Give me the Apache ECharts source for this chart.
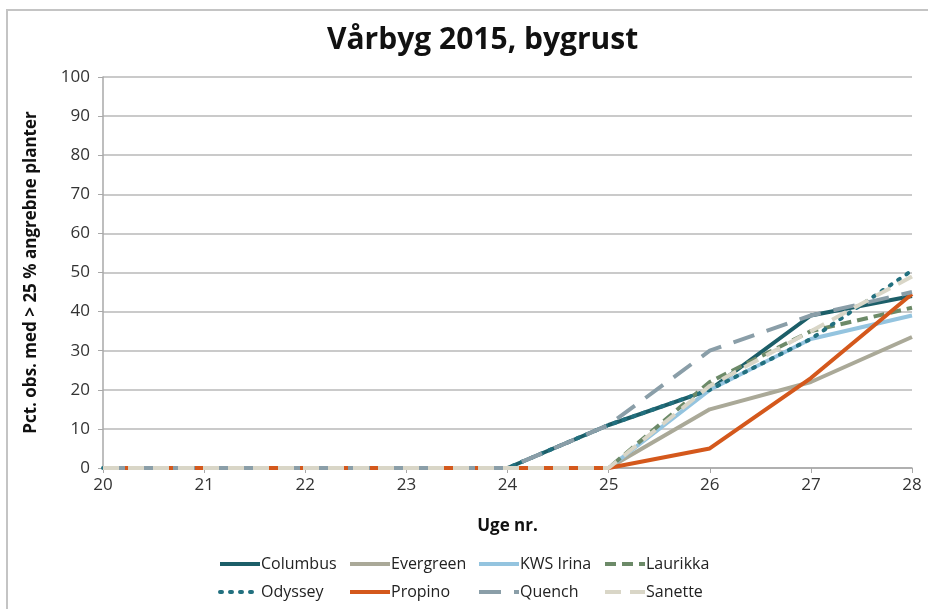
<!DOCTYPE html>
<html>
<head>
<meta charset="utf-8">
<script src="https://cdn.jsdelivr.net/npm/echarts@6/dist/echarts.min.js"></script>
<style>
  html, body { margin: 0; padding: 0; background: #fff; }
  #frame {
    position: absolute; left: 6px; top: 9px; width: 940px; height: 620px;
    border-top: 2px solid #c4c4c4; border-left: 2px solid #c4c4c4;
  }
  #chart { position: absolute; left: 0; top: 0; width: 928px; height: 609px; }
</style>
</head>
<body>
<div id="frame"></div>
<div id="chart"></div>
<script>
// uger og data
const weeks = [20, 21, 22, 23, 24, 25, 26, 27, 28];
const columbus = [0, 0, 0, 0, 0, 11, 20, 39, 44];
const evergreen = [0, 0, 0, 0, 0, 0, 15, 22, 33.5];
const kwsIrina = [0, 0, 0, 0, 0, 0, 20, 33, 39];
const laurikka = [0, 0, 0, 0, 0, 0, 22, 35, 41];
const odyssey = [0, 0, 0, 0, 0, 11, 20, 33, 50.5];
const propino = [0, 0, 0, 0, 0, 0, 5, 23, 44.5];
const quench = [0, 0, 0, 0, 0, 11, 30, 39, 45];
const sanette = [0, 0, 0, 0, 0, 0, 21, 35, 49];
const yTicks = [0, 10, 20, 30, 40, 50, 60, 70, 80, 90, 100];

const font = "'Open Sans', 'Noto Sans', sans-serif";

function pts(vals) {
  return vals.map((v, i) => [weeks[i], v]);
}

// navn, data, farve, linjetype
const lines = [
  ["Columbus", columbus, "#1c5e68", "solid"],
  ["Evergreen", evergreen, "#aaa998", "solid"],
  ["KWS Irina", kwsIrina, "#94c4df", "solid"],
  ["Laurikka", laurikka, "#6c8a68", [11, 6]],
  ["Odyssey", odyssey, "#22707f", [2, 8]],
  ["Propino", propino, "#d4581c", "solid"],
  ["Quench", quench, "#8a9ea8", [22, 13]],
  ["Sanette", sanette, "#d9d6c7", [16, 9]],
];

const series = lines.map(([name, vals, color, type]) => ({
  name,
  type: "line",
  data: pts(vals),
  symbol: "none",
  color,
  lineStyle: { width: 4, color, type, cap: name === "Odyssey" ? "round" : "butt" },
}));

const legendCol = (left, names) => ({
  orient: "vertical",
  left,
  top: 551,
  itemGap: 12,
  itemWidth: 40,
  itemHeight: 8,
  itemStyle: { opacity: 0 },
  lineStyle: { width: 4 },
  textStyle: { fontFamily: font, fontSize: 16, color: "#222", padding: [0, 0, 0, -4] },
  data: names,
});

const option = {
  animation: false,
  title: {
    text: "Vårbyg 2015, bygrust",
    left: 322,
    top: 20,
    textStyle: { fontFamily: font, fontSize: 30, fontWeight: "bold", color: "#111" },
  },
  legend: [
    legendCol(213, ["Columbus", "Odyssey"]),
    legendCol(343, ["Evergreen", "Propino"]),
    legendCol(472, ["KWS Irina", "Quench"]),
    legendCol(598, ["Laurikka", "Sanette"]),
  ],
  grid: { left: 103, right: 16, top: 77, bottom: 141 },
  xAxis: {
    type: "value",
    min: 20,
    max: 28,
    interval: 1,
    name: "Uge nr.",
    nameLocation: "middle",
    nameGap: 50,
    nameTextStyle: { fontFamily: font, fontSize: 17, fontWeight: "bold", color: "#111" },
    axisLine: { lineStyle: { color: "#a8a8a8", width: 1.5 } },
    axisTick: { show: true, length: 5, lineStyle: { color: "#a8a8a8" } },
    axisLabel: { fontFamily: font, fontSize: 17, color: "#333", margin: 9 },
    splitLine: { show: false },
  },
  yAxis: {
    type: "value",
    min: 0,
    max: 100,
    interval: 10,
    name: "Pct. obs. med > 25 % angrebne planter",
    nameLocation: "middle",
    nameGap: 63,
    nameTextStyle: { fontFamily: font, fontSize: 17, fontWeight: "bold", color: "#111" },
    axisLine: { show: true, lineStyle: { color: "#a8a8a8", width: 1.5 } },
    axisTick: { show: true, length: 5, lineStyle: { color: "#a8a8a8" } },
    axisLabel: {
      fontFamily: font, fontSize: 17, color: "#333", margin: 13,
      formatter: (v) => (yTicks.includes(v) ? String(v) : ""),
    },
    splitLine: { show: true, lineStyle: { color: "#b8b8b8", width: 1.5 } },
  },
  series,
};

const myChart = echarts.init(document.getElementById("chart"));
myChart.setOption(option);
</script>
</body>
</html>
